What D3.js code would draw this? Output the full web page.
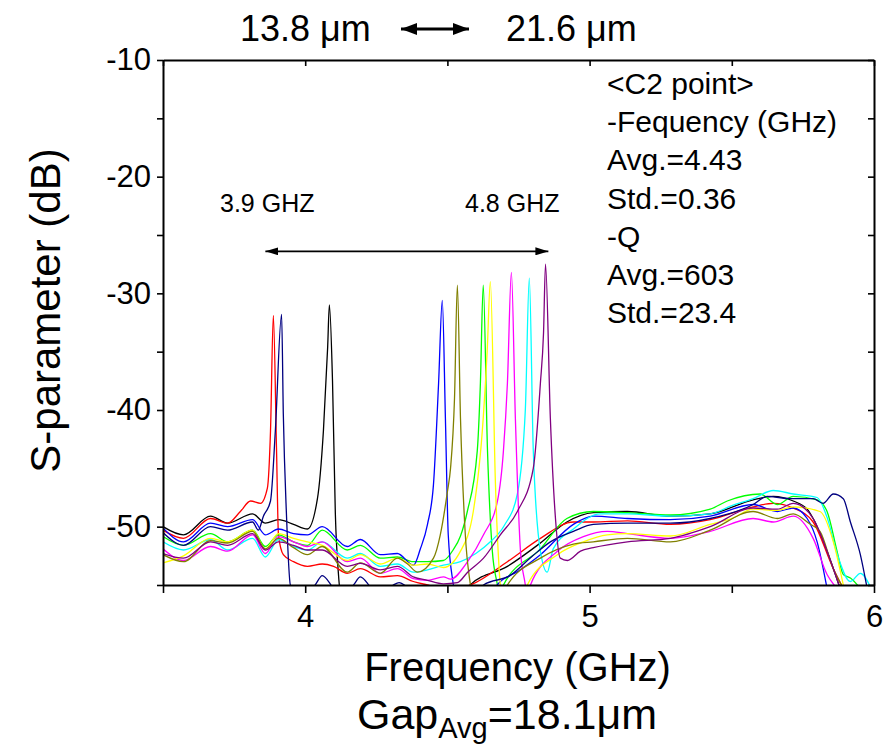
<!DOCTYPE html>
<html>
<head>
<meta charset="utf-8">
<script src="https://cdn.jsdelivr.net/npm/d3@7"></script>
<style>
  body { margin: 0; background: #fff; }
  text { font-family: Arial, "Liberation Sans", sans-serif; fill: #000; }
</style>
</head>
<body>
<div id="chart"></div>
<script>
// tick values
var freqTicks = [3.5, 4, 4.5, 5, 5.5, 6];
var dbTicks = [-55, -50, -45, -40, -35, -30, -25, -20, -15, -10];

// text of the info box
var infoLines = ["<C2 point>", "-Fequency (GHz)", "Avg.=4.43", "Std.=0.36", "-Q", "Avg.=603", "Std.=23.4"];

var traceBlack = [[3.50,-50.0],[3.572,-50.7],[3.667,-49.1],[3.727,-49.7],[3.815,-48.9],[3.86,-49.7],[3.906,-49.4],[3.959,-49.8],[4.008,-50.2],[4.043,-47.6],[4.064,-41.8],[4.079,-34.6],[4.085,-31.0],[4.096,-37.5],[4.106,-48.9],[4.117,-54.1],[4.13,-56.5],[4.56,-56.5],[4.58,-55.0],[4.711,-53.4],[4.827,-51.4],[4.92,-49.6],[5.013,-48.8],[5.133,-48.7],[5.284,-49.1],[5.424,-48.9],[5.575,-47.7],[5.646,-47.4],[5.716,-47.8],[5.765,-48.5],[5.786,-49.3],[5.835,-52.1],[5.881,-55.3]];
var traceRed = [[3.50,-50.3],[3.572,-51.0],[3.667,-49.3],[3.727,-49.7],[3.772,-48.7],[3.808,-47.8],[3.843,-48.0],[3.867,-46.7],[3.878,-41.8],[3.888,-31.9],[3.899,-43.2],[3.906,-50.7],[3.923,-52.4],[3.959,-53.0],[4.008,-53.4],[4.06,-53.2],[4.10,-53.4],[4.148,-54.0],[4.194,-53.6],[4.264,-54.3],[4.324,-54.2],[4.38,-54.7],[4.43,-55.0],[4.50,-55.4],[4.58,-55.0],[4.711,-53.0],[4.827,-51.0],[4.943,-49.6],[5.013,-49.6],[5.133,-49.5],[5.284,-49.8],[5.424,-49.4],[5.575,-48.3],[5.646,-48.0],[5.716,-48.4],[5.786,-49.6],[5.857,-53.6],[5.892,-55.3]];
var traceGreen = [[3.50,-50.85],[3.572,-51.6],[3.667,-50.6],[3.727,-51.3],[3.815,-50.3],[3.86,-51.7],[3.906,-50.7],[3.959,-51.3],[4.008,-51.6],[4.06,-50.3],[4.148,-52.0],[4.194,-51.6],[4.264,-52.7],[4.324,-52.6],[4.38,-53.0],[4.43,-53.0],[4.486,-52.9],[4.52,-52.0],[4.546,-50.8],[4.570,-48.7],[4.605,-43.5],[4.616,-37.7],[4.626,-29.3],[4.641,-43.5],[4.658,-52.1],[4.676,-55.0],[4.686,-56.5],[4.69,-56.5],[4.697,-55.0],[4.827,-51.9],[4.92,-49.3],[5.013,-48.7],[5.133,-48.8],[5.284,-49.0],[5.424,-48.5],[5.484,-47.8],[5.60,-47.2],[5.66,-48.1],[5.716,-47.4],[5.80,-47.7],[5.835,-48.7],[5.871,-52.2],[5.892,-54.1],[5.917,-54.4],[5.952,-55.3]];
var traceBlue = [[3.50,-50.1],[3.572,-51.3],[3.667,-49.7],[3.727,-50.0],[3.815,-49.4],[3.86,-50.7],[3.906,-50.2],[3.959,-50.6],[4.008,-50.7],[4.06,-50.0],[4.148,-51.7],[4.194,-51.1],[4.264,-52.4],[4.324,-52.3],[4.381,-53.3],[4.405,-51.9],[4.43,-49.8],[4.451,-46.4],[4.469,-37.7],[4.482,-30.6],[4.493,-40.7],[4.503,-50.7],[4.521,-55.0],[4.53,-56.5],[4.66,-56.5],[4.675,-55.0],[4.75,-53.8],[4.827,-52.4],[4.943,-49.8],[5.013,-49.1],[5.133,-49.3],[5.284,-49.4],[5.424,-49.1],[5.575,-48.1],[5.66,-48.7],[5.716,-48.4],[5.765,-49.3],[5.80,-51.3],[5.835,-55.3]];
var traceCyan = [[3.50,-51.3],[3.572,-52.0],[3.667,-51.1],[3.727,-52.0],[3.815,-51.0],[3.86,-52.6],[3.906,-51.1],[3.959,-51.7],[4.008,-52.0],[4.06,-51.3],[4.148,-52.7],[4.194,-52.3],[4.264,-53.4],[4.324,-53.2],[4.38,-53.9],[4.43,-53.7],[4.486,-53.3],[4.546,-53.0],[4.60,-52.3],[4.651,-51.3],[4.70,-49.9],[4.746,-47.2],[4.774,-40.0],[4.788,-28.7],[4.802,-43.5],[4.827,-52.1],[4.851,-53.9],[4.872,-51.9],[4.943,-50.2],[5.038,-48.9],[5.133,-48.9],[5.284,-49.1],[5.424,-48.9],[5.50,-48.2],[5.575,-47.6],[5.646,-46.9],[5.716,-47.2],[5.80,-47.5],[5.835,-49.2],[5.87,-52.3],[5.917,-54.7],[5.952,-54.0],[5.99,-55.3]];
var traceMagenta = [[3.50,-51.9],[3.572,-52.9],[3.667,-51.7],[3.727,-52.1],[3.815,-50.7],[3.86,-52.3],[3.906,-50.85],[3.959,-51.3],[4.008,-51.7],[4.06,-51.3],[4.148,-53.0],[4.194,-52.7],[4.264,-54.0],[4.324,-53.6],[4.38,-54.45],[4.43,-54.6],[4.486,-54.3],[4.511,-54.5],[4.571,-53.0],[4.627,-50.7],[4.676,-47.8],[4.697,-43.5],[4.711,-37.7],[4.725,-28.2],[4.739,-40.7],[4.757,-52.1],[4.774,-55.0],[4.782,-56.5],[4.785,-56.5],[4.792,-55.0],[4.887,-52.1],[4.978,-50.85],[5.062,-50.4],[5.133,-50.6],[5.284,-51.0],[5.424,-50.4],[5.575,-49.3],[5.646,-49.6],[5.716,-49.1],[5.786,-51.0],[5.835,-54.1],[5.87,-55.3]];
var traceYellow = [[3.50,-53.1],[3.572,-52.5],[3.667,-51.0],[3.727,-51.3],[3.815,-50.3],[3.86,-51.9],[3.906,-50.6],[3.959,-51.0],[4.008,-51.3],[4.06,-51.6],[4.148,-52.9],[4.194,-52.4],[4.264,-53.2],[4.324,-52.7],[4.38,-53.3],[4.43,-53.2],[4.486,-53.5],[4.546,-52.1],[4.591,-48.7],[4.626,-40.7],[4.64,-34.9],[4.651,-29.0],[4.669,-46.4],[4.686,-55.0],[4.695,-56.5],[4.77,-56.5],[4.781,-55.0],[4.887,-52.4],[4.978,-51.3],[5.062,-50.7],[5.133,-50.6],[5.284,-50.8],[5.424,-49.8],[5.50,-49.3],[5.575,-48.5],[5.66,-48.6],[5.716,-48.3],[5.81,-48.7],[5.857,-51.3],[5.892,-55.0]];
var traceOlive = [[3.50,-52.4],[3.572,-53.0],[3.667,-51.2],[3.727,-51.4],[3.815,-50.4],[3.86,-51.9],[3.906,-51.0],[3.959,-51.8],[4.008,-52.4],[4.06,-51.7],[4.148,-53.9],[4.194,-53.1],[4.264,-54.0],[4.324,-52.7],[4.36,-53.2],[4.395,-53.9],[4.451,-52.7],[4.475,-50.7],[4.50,-47.0],[4.511,-45.0],[4.525,-39.0],[4.535,-29.3],[4.546,-40.7],[4.563,-50.7],[4.581,-55.0],[4.59,-56.5],[4.70,-56.5],[4.711,-55.0],[4.827,-52.7],[4.943,-51.5],[5.013,-51.3],[5.133,-51.0],[5.284,-51.3],[5.424,-50.3],[5.575,-48.7],[5.66,-49.3],[5.716,-48.9],[5.776,-49.8],[5.81,-50.4],[5.857,-53.6],[5.892,-55.3]];
var traceNavy = [[3.50,-50.5],[3.572,-51.6],[3.667,-50.0],[3.727,-50.3],[3.815,-49.6],[3.835,-50.3],[3.853,-49.1],[3.878,-47.8],[3.895,-41.8],[3.917,-31.8],[3.923,-40.3],[3.934,-48.9],[3.948,-55.0],[3.99,-56.0],[4.035,-55.0],[4.06,-54.2],[4.10,-55.3],[4.13,-56.0],[4.17,-55.0],[4.194,-54.3],[4.23,-55.2],[4.26,-56.0],[4.31,-55.0],[4.33,-54.8],[4.36,-55.2],[4.40,-56.0],[4.60,-56.0],[4.627,-55.0],[4.72,-54.2],[4.80,-52.5],[4.862,-51.3],[4.943,-50.4],[5.013,-49.8],[5.133,-49.7],[5.284,-49.7],[5.424,-49.3],[5.575,-48.1],[5.624,-47.4],[5.706,-47.6],[5.786,-47.6],[5.821,-48.0],[5.857,-47.2],[5.892,-47.6],[5.917,-49.6],[5.952,-52.4],[5.976,-55.3]];
var tracePurple = [[3.50,-52.3],[3.572,-52.7],[3.667,-51.3],[3.727,-51.6],[3.815,-50.6],[3.86,-52.0],[3.906,-51.3],[3.959,-51.6],[4.008,-52.0],[4.06,-52.0],[4.148,-53.4],[4.194,-53.15],[4.264,-53.7],[4.324,-53.4],[4.38,-54.3],[4.43,-54.6],[4.486,-54.9],[4.535,-54.8],[4.571,-53.9],[4.627,-52.7],[4.686,-50.7],[4.746,-48.7],[4.802,-45.0],[4.827,-37.7],[4.838,-33.4],[4.845,-27.5],[4.862,-40.7],[4.88,-49.3],[4.897,-52.7],[4.922,-52.9],[4.968,-52.1],[5.013,-51.8],[5.133,-51.3],[5.284,-51.0],[5.424,-50.0],[5.575,-48.4],[5.66,-48.5],[5.716,-48.0],[5.786,-49.3],[5.835,-52.1],[5.881,-55.3]];

var traces = [traceBlack, traceRed, traceGreen, traceBlue, traceCyan, traceMagenta, traceYellow, traceOlive, traceNavy, tracePurple];
var traceColors = ["#000000", "#ff0000", "#00ff00", "#0000ff", "#00ffff", "#ff00ff", "#ffff00", "#808000", "#000080", "#800080"];

var W = 894, H = 747;
var margin = {left: 163, right: 20, top: 60, bottom: 162};

var svg = d3.select("#chart").append("svg")
  .attr("width", W)
  .attr("height", H);

var x = d3.scaleLinear().domain([3.5, 6]).range([margin.left, W - margin.right]);
var y = d3.scaleLinear().domain([-55, -10]).range([H - margin.bottom, margin.top]);

// clip traces to the frame
svg.append("clipPath").attr("id", "plotClip")
  .append("rect")
  .attr("x", x(3.5)).attr("y", y(-10))
  .attr("width", x(6) - x(3.5)).attr("height", y(-55) - y(-10));

var line = d3.line()
  .x(function(d) { return x(d[0]); })
  .y(function(d) { return y(d[1]); })
  .curve(d3.curveMonotoneX);

svg.append("g")
  .attr("clip-path", "url(#plotClip)")
  .selectAll("path")
  .data(traces)
  .enter()
  .append("path")
  .attr("d", line)
  .attr("fill", "none")
  .attr("stroke", function(d, i) { return traceColors[i]; })
  .attr("stroke-width", 1.3);

// axes
function styleAxis(g) {
  g.selectAll(".domain").attr("stroke", "#000").attr("stroke-width", 2);
  g.selectAll(".tick line").attr("stroke", "#000").attr("stroke-width", 1.6);
  g.selectAll("text").style("font-size", "31px").style("font-family", "Arial, 'Liberation Sans', sans-serif");
}

var xBottom = d3.axisBottom(x).tickValues(freqTicks)
  .tickFormat(function(d) { return d % 1 === 0 ? d3.format("d")(d) : ""; })
  .tickSizeInner(8).tickSizeOuter(0).tickPadding(12);
svg.append("g").attr("transform", "translate(0," + y(-55) + ")").call(xBottom).call(styleAxis);

var xTop = d3.axisTop(x).tickValues(freqTicks).tickFormat("")
  .tickSizeInner(-6).tickSizeOuter(0);
svg.append("g").attr("transform", "translate(0," + y(-10) + ")").call(xTop).call(styleAxis);

var yLeft = d3.axisLeft(y).tickValues(dbTicks)
  .tickFormat(function(d) { return d % 10 === 0 ? d3.format("d")(d).replace("\u2212", "-") : ""; })
  .tickSizeInner(6).tickSizeOuter(0).tickPadding(6);
svg.append("g").attr("transform", "translate(" + x(3.5) + ",0)").call(yLeft).call(styleAxis);

var yRight = d3.axisRight(y).tickValues(dbTicks).tickFormat("")
  .tickSizeInner(-6).tickSizeOuter(0);
svg.append("g").attr("transform", "translate(" + x(6) + ",0)").call(yRight).call(styleAxis);

// axis titles
svg.append("text")
  .attr("x", (x(3.5) + x(6)) / 2 - 1)
  .attr("y", 681)
  .attr("text-anchor", "middle")
  .style("font-size", "40px")
  .text("Frequency (GHz)");

svg.append("text")
  .attr("transform", "translate(60," + ((y(-10) + y(-55)) / 2 - 12) + ") rotate(-90)")
  .attr("text-anchor", "middle")
  .style("font-size", "42px")
  .text("S-parameter (dB)");

// Gap average label
var gap = svg.append("text").attr("x", 357).attr("y", 729).style("font-size", "43px");
gap.append("tspan").text("Gap");
gap.append("tspan").attr("dy", 9).style("font-size", "29px").text("Avg");
gap.append("tspan").attr("dy", -9).text("=18.1\u03bcm");

// arrow markers
var defs = svg.append("defs");
function addHead(id, len, half) {
  defs.append("marker")
    .attr("id", id)
    .attr("viewBox", "0 0 " + len + " " + (half * 2))
    .attr("refX", len).attr("refY", half)
    .attr("markerWidth", len).attr("markerHeight", half * 2)
    .attr("markerUnits", "userSpaceOnUse")
    .attr("orient", "auto-start-reverse")
    .append("path")
    .attr("d", "M0,0L" + len + "," + half + "L0," + (half * 2) + "Z")
    .attr("fill", "#000");
}
addHead("bigHead", 16, 6);
addHead("smallHead", 13, 4);

// top gap labels
svg.append("text").attr("x", 240).attr("y", 41).style("font-size", "36px").text("13.8 \u03bcm");
svg.append("text").attr("x", 506).attr("y", 41).style("font-size", "36px").text("21.6 \u03bcm");
svg.append("line")
  .attr("x1", 401).attr("y1", 29).attr("x2", 469).attr("y2", 29)
  .attr("stroke", "#000").attr("stroke-width", 3)
  .attr("marker-start", "url(#bigHead)").attr("marker-end", "url(#bigHead)");

// frequency span annotation
svg.append("text").attr("x", 220).attr("y", 212).style("font-size", "25px").text("3.9 GHZ");
svg.append("text").attr("x", 465).attr("y", 212).style("font-size", "25px").text("4.8 GHZ");
svg.append("line")
  .attr("x1", x(3.86)).attr("y1", y(-26.4)).attr("x2", x(4.855)).attr("y2", y(-26.4))
  .attr("stroke", "#000").attr("stroke-width", 1.6)
  .attr("marker-start", "url(#smallHead)").attr("marker-end", "url(#smallHead)");

// info box
svg.append("g").selectAll("text")
  .data(infoLines)
  .enter()
  .append("text")
  .attr("x", 607)
  .attr("y", function(d, i) { return 94 + i * 38.2; })
  .style("font-size", "30px")
  .text(function(d) { return d; });
</script>
</body>
</html>
